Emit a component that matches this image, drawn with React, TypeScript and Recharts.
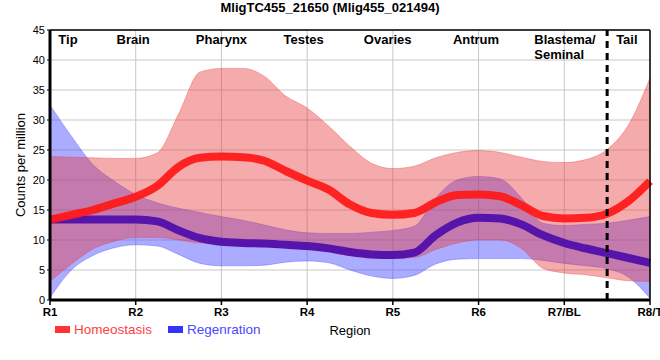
import {
  ComposedChart,
  Area,
  Line,
  XAxis,
  YAxis,
  CartesianGrid,
  ReferenceLine,
} from 'recharts'

// sample positions along the body (0 = R1 ... 7 = R8/T)
const positions = [
  0, 0.25, 0.5, 0.75, 1, 1.25, 1.5, 1.75, 2, 2.25, 2.5, 2.75, 3, 3.25, 3.5, 3.75,
  4, 4.25, 4.5, 4.75, 5, 5.25, 5.5, 5.75, 6, 6.25, 6.5, 6.75, 7,
]

const homeoMean = [
  13.4, 14.2, 15.0, 16.1, 17.2, 19.0, 22.2, 23.7, 23.9, 23.8, 23.2, 21.5, 19.9, 18.4, 15.9, 14.5,
  14.2, 14.5, 16.3, 17.5, 17.6, 17.3, 15.8, 14.0, 13.6, 13.7, 14.4, 16.5, 19.8,
]
const homeoHigh = [
  23.9, 23.8, 23.7, 23.6, 23.6, 24.5, 31.0, 38.0, 38.6, 38.6, 37.3, 34.0, 32.0, 29.0, 25.6, 22.8,
  21.9, 22.3, 23.7, 24.6, 24.9, 24.6, 23.8, 23.1, 22.9, 23.4, 25.1, 29.2, 37.0,
]
const homeoLow = [
  3.1, 6.0, 8.5, 9.8, 10.4, 10.4, 10.0, 9.5, 9.4, 9.3, 9.2, 8.9, 8.6, 8.1, 7.4, 7.1,
  7.0, 7.1, 8.4, 9.5, 10.0, 10.0, 8.6, 5.3, 4.5, 4.2, 3.7, 3.2, 3.1,
]

const regenMean = [
  13.4, 13.4, 13.4, 13.4, 13.4, 13.1, 11.6, 10.3, 9.7, 9.5, 9.4, 9.2, 9.0, 8.6, 8.0, 7.6,
  7.5, 7.9, 10.8, 12.9, 13.7, 13.6, 12.6, 10.8, 9.5, 8.6, 7.8, 7.0, 6.2,
]
const regenHigh = [
  32.5, 27.3, 22.6, 19.8, 17.6, 16.2, 15.3, 14.6, 13.9, 13.3, 12.5, 11.7, 11.2, 11.1, 11.1, 11.3,
  11.6, 12.3, 17.0, 20.0, 20.6, 20.2, 17.0, 12.8, 12.4, 12.6, 12.8, 13.3, 13.9,
]
const regenLow = [
  0.4, 5.0, 7.4, 8.7, 9.2, 9.0, 7.6, 6.1, 5.7, 5.7, 5.8, 6.3, 6.5, 6.2, 5.0, 4.0,
  3.6, 4.1, 6.0, 6.8, 6.9, 6.9, 6.9, 6.6, 6.1, 5.7, 5.2, 3.8, 0.3,
]

const xTicks = [0, 1, 2, 3, 4, 5, 6, 7]
const xTickLabels = ['R1', 'R2', 'R3', 'R4', 'R5', 'R6', 'R7/BL', 'R8/T']
const yTicks = [0, 5, 10, 15, 20, 25, 30, 35, 40, 45]

const regionNames = ['Tip', 'Brain', 'Pharynx', 'Testes', 'Ovaries', 'Antrum', 'Blastema/\nSeminal', 'Tail']
const regionPos = [0.21, 0.97, 2.0, 2.96, 3.94, 4.97, 5.65, 6.73]

const data = positions.map((x, i) => ({
  x,
  homeo: homeoMean[i],
  homeoRange: [homeoLow[i], homeoHigh[i]],
  regen: regenMean[i],
  regenRange: [regenLow[i], regenHigh[i]],
}))

const FONT = "'Liberation Sans', Arial, sans-serif"
const RED = '#E8363A'
const BLUE = '#4444FF'

function regionLabel(name: string) {
  const lines = name.split('\n')
  const anchor = lines.length > 1 ? 'start' : 'middle'
  return (props: any) => {
    const { viewBox } = props
    return (
      <text x={viewBox.x} y={viewBox.y + 13.5} textAnchor={anchor} fontFamily={FONT} fontSize={13} fontWeight="bold" fill="#000">
        {lines.map((l, i) => (
          <tspan key={i} x={viewBox.x} dy={i === 0 ? 0 : 15}>{l}</tspan>
        ))}
      </text>
    )
  }
}

function YLabel(props: any) {
  const { viewBox } = props
  const cy = viewBox.y + viewBox.height / 2
  return (
    <text x={20} y={cy} transform={`rotate(-90, 20, ${cy})`} textAnchor="middle" dominantBaseline="central" fontFamily={FONT} fontSize={13} fill="#000">
      Counts per million
    </text>
  )
}

export default function App() {
  return (
    <div style={{ position: 'absolute', left: 0, top: 0, width: 660, height: 360, background: '#fff', fontFamily: FONT }}>
      <div style={{ position: 'absolute', top: 0, left: 0, width: 660, textAlign: 'center', fontSize: 13, fontWeight: 'bold', lineHeight: '16px' }}>
        MligTC455_21650 (Mlig455_021494)
      </div>
      <ComposedChart width={660} height={360} data={data} margin={{ top: 30, right: 10, bottom: 34, left: 0 }}>
        <CartesianGrid stroke="#c8c8c8" strokeWidth={1} />
        <XAxis
          type="number"
          dataKey="x"
          domain={[0, 7]}
          ticks={xTicks}
          interval={0}
          height={26}
          tickFormatter={(v: number) => xTickLabels[v]}
          axisLine={{ stroke: '#000', strokeWidth: 3 }}
          tickLine={{ stroke: '#000', strokeWidth: 1.5 }}
          tickSize={5}
          tickMargin={3}
          tick={{ fill: '#000', fontSize: 11.5, fontWeight: 'bold', fontFamily: FONT }}
          label={{ value: 'Region', position: 'bottom', offset: 0, fill: '#000', fontSize: 13, fontFamily: FONT }}
        />
        <YAxis
          domain={[0, 45]}
          ticks={yTicks}
          interval={0}
          width={50}
          axisLine={{ stroke: '#000', strokeWidth: 3 }}
          tickLine={{ stroke: '#000', strokeWidth: 1 }}
          tickSize={3}
          tickMargin={2}
          tick={{ fill: '#000', fontSize: 11, fontFamily: FONT }}
          label={<YLabel />}
        />
        <Area type="monotone" dataKey="regenRange" fill={BLUE} fillOpacity={0.45} stroke={BLUE} strokeOpacity={0.35} strokeWidth={1} isAnimationActive={false} />
        <Area type="monotone" dataKey="homeoRange" fill={RED} fillOpacity={0.42} stroke={RED} strokeOpacity={0.35} strokeWidth={1} isAnimationActive={false} />
        <Line type="monotone" dataKey="regen" stroke="#5614AA" strokeWidth={8} dot={false} isAnimationActive={false} />
        <Line type="monotone" dataKey="homeo" stroke="#FF1A1A" strokeOpacity={0.95} strokeWidth={8} dot={false} isAnimationActive={false} />
        <ReferenceLine y={45} stroke="#000" strokeWidth={1.5} />
        <ReferenceLine x={7} stroke="#000" strokeWidth={1.5} />
        <ReferenceLine x={6.5} stroke="#000" strokeWidth={3} strokeDasharray="7 5" />
        {regionNames.map((name, i) => (
          <ReferenceLine key={name} x={regionPos[i]} stroke="none" label={regionLabel(name)} />
        ))}
      </ComposedChart>
      <div style={{ position: 'absolute', left: 55, top: 322, display: 'flex', alignItems: 'center', fontSize: 13.5 }}>
        <span style={{ display: 'inline-block', width: 15, height: 7, background: '#FF3333', marginRight: 4 }} />
        <span style={{ color: '#FF4040', marginRight: 16 }}>Homeostasis</span>
        <span style={{ display: 'inline-block', width: 15, height: 7, background: '#3333FF', marginRight: 4 }} />
        <span style={{ color: '#4848FF' }}>Regenration</span>
      </div>
    </div>
  )
}
